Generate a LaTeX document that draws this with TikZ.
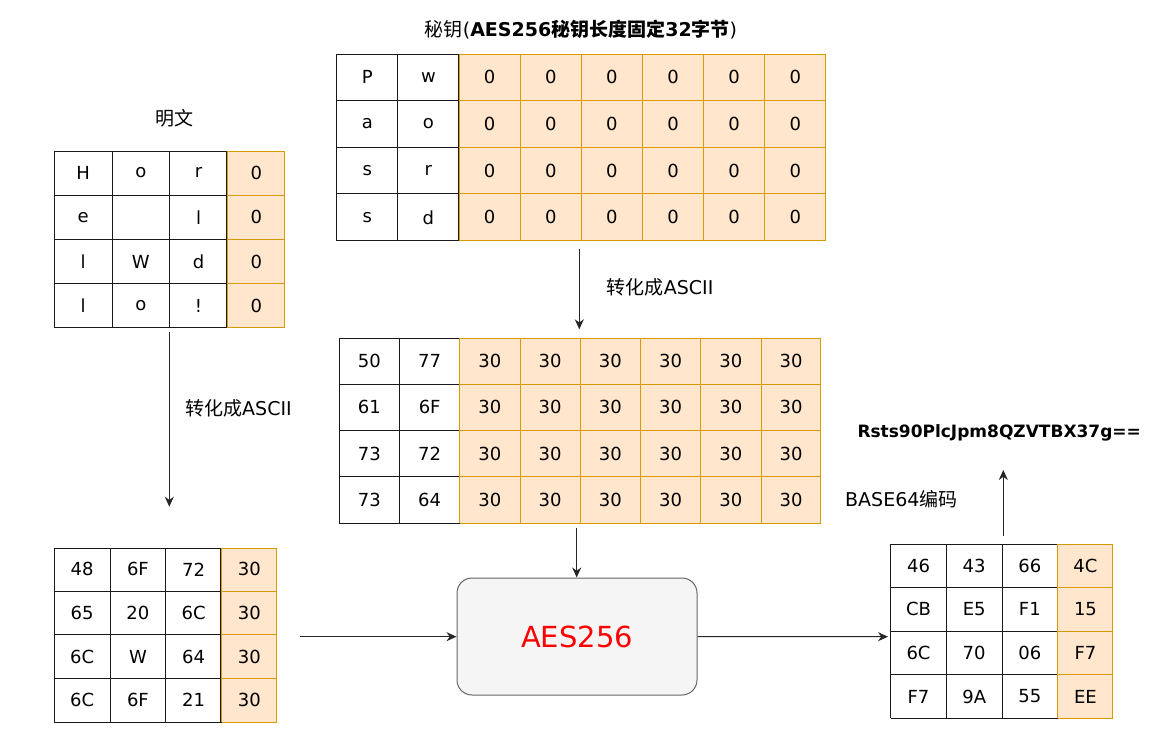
\documentclass[tikz,border=0pt]{standalone}
\usepackage{fontspec}
\setmainfont{DejaVu Sans}
\newfontfamily\cjk{Noto Sans CJK SC}
\usepackage{tikz}
\usetikzlibrary{arrows.meta}
\definecolor{padfill}{HTML}{FFE6CC}
\definecolor{padedge}{HTML}{D79B00}
\definecolor{boxfill}{HTML}{F5F5F5}
\definecolor{boxedge}{HTML}{666666}
\tikzset{
  cellline/.style={line width=1pt, black!90, step=1},
  padline/.style={line width=1pt, padedge, step=1},
  flow/.style={-{Stealth[length=10pt,width=9pt]}, line width=1pt, black!85},
  tag/.style={inner sep=0pt, font=\fontsize{19}{22}\selectfont},
  aesbox/.style={draw=boxedge, fill=boxfill, line width=1pt, rounded corners=15pt,
    minimum width=240pt, minimum height=117pt, text=red, font=\fontsize{29}{34}\selectfont},
}
\begin{document}
\begin{tikzpicture}[x=1pt, y=1pt, every node/.append style={font=\fontsize{18}{22}\selectfont}]
\useasboundingbox (0,0) rectangle (1175,740);

% plaintext
\node[tag] (ptTitle) at (174,622) {\cjk 明文};
\begin{scope}[shift={(54.3,412)}, xscale=57.7, yscale=44.3]
\fill[padfill] (3,0) rectangle (4,4);
\draw[cellline] (0,0) grid (3,4);
\draw[padline] (3,0) grid (4,4);
\node (p11) at (0.5,3.5) {H};
\node (p12) at (1.5,3.5) {o};
\node (p13) at (2.5,3.5) {r};
\node (p14) at (3.5,3.5) {0};
\node (p21) at (0.5,2.5) {e};
\node (p23) at (2.5,2.5) {l};
\node (p24) at (3.5,2.5) {0};
\node (p31) at (0.5,1.5) {l};
\node (p32) at (1.5,1.5) {W};
\node (p33) at (2.5,1.5) {d};
\node (p34) at (3.5,1.5) {0};
\node (p41) at (0.5,0.5) {l};
\node (p42) at (1.5,0.5) {o};
\node (p43) at (2.5,0.5) {!};
\node (p44) at (3.5,0.5) {0};
\end{scope}

% key
\node[tag] (keyTitle) at (581,710) {{\cjk 秘钥}({\bfseries AES256{\cjk 秘钥长度固定}32{\cjk 字节}})};
\begin{scope}[shift={(336.7,499.3)}, xscale=61.15, yscale=46.7]
\fill[padfill] (2,0) rectangle (8,4);
\draw[cellline] (0,0) grid (2,4);
\draw[padline] (2,0) grid (8,4);
\node (k11) at (0.5,3.5) {P};
\node (k12) at (1.5,3.5) {w};
\node (k13) at (2.5,3.5) {0};
\node (k14) at (3.5,3.5) {0};
\node (k15) at (4.5,3.5) {0};
\node (k16) at (5.5,3.5) {0};
\node (k17) at (6.5,3.5) {0};
\node (k18) at (7.5,3.5) {0};
\node (k21) at (0.5,2.5) {a};
\node (k22) at (1.5,2.5) {o};
\node (k23) at (2.5,2.5) {0};
\node (k24) at (3.5,2.5) {0};
\node (k25) at (4.5,2.5) {0};
\node (k26) at (5.5,2.5) {0};
\node (k27) at (6.5,2.5) {0};
\node (k28) at (7.5,2.5) {0};
\node (k31) at (0.5,1.5) {s};
\node (k32) at (1.5,1.5) {r};
\node (k33) at (2.5,1.5) {0};
\node (k34) at (3.5,1.5) {0};
\node (k35) at (4.5,1.5) {0};
\node (k36) at (5.5,1.5) {0};
\node (k37) at (6.5,1.5) {0};
\node (k38) at (7.5,1.5) {0};
\node (k41) at (0.5,0.5) {s};
\node (k42) at (1.5,0.5) {d};
\node (k43) at (2.5,0.5) {0};
\node (k44) at (3.5,0.5) {0};
\node (k45) at (4.5,0.5) {0};
\node (k46) at (5.5,0.5) {0};
\node (k47) at (6.5,0.5) {0};
\node (k48) at (7.5,0.5) {0};
\end{scope}

% key as ascii
\begin{scope}[shift={(339.3,216.7)}, xscale=60.25, yscale=46.4]
\fill[padfill] (2,0) rectangle (8,4);
\draw[cellline] (0,0) grid (2,4);
\draw[padline] (2,0) grid (8,4);
\node (a11) at (0.5,3.5) {50};
\node (a12) at (1.5,3.5) {77};
\node (a13) at (2.5,3.5) {30};
\node (a14) at (3.5,3.5) {30};
\node (a15) at (4.5,3.5) {30};
\node (a16) at (5.5,3.5) {30};
\node (a17) at (6.5,3.5) {30};
\node (a18) at (7.5,3.5) {30};
\node (a21) at (0.5,2.5) {61};
\node (a22) at (1.5,2.5) {6F};
\node (a23) at (2.5,2.5) {30};
\node (a24) at (3.5,2.5) {30};
\node (a25) at (4.5,2.5) {30};
\node (a26) at (5.5,2.5) {30};
\node (a27) at (6.5,2.5) {30};
\node (a28) at (7.5,2.5) {30};
\node (a31) at (0.5,1.5) {73};
\node (a32) at (1.5,1.5) {72};
\node (a33) at (2.5,1.5) {30};
\node (a34) at (3.5,1.5) {30};
\node (a35) at (4.5,1.5) {30};
\node (a36) at (5.5,1.5) {30};
\node (a37) at (6.5,1.5) {30};
\node (a38) at (7.5,1.5) {30};
\node (a41) at (0.5,0.5) {73};
\node (a42) at (1.5,0.5) {64};
\node (a43) at (2.5,0.5) {30};
\node (a44) at (3.5,0.5) {30};
\node (a45) at (4.5,0.5) {30};
\node (a46) at (5.5,0.5) {30};
\node (a47) at (6.5,0.5) {30};
\node (a48) at (7.5,0.5) {30};
\end{scope}

% plaintext as ascii
\begin{scope}[shift={(54.3,18)}, xscale=55.75, yscale=43.6]
\fill[padfill] (3,0) rectangle (4,4);
\draw[cellline] (0,0) grid (3,4);
\draw[padline] (3,0) grid (4,4);
\node (h11) at (0.5,3.5) {48};
\node (h12) at (1.5,3.5) {6F};
\node (h13) at (2.5,3.5) {72};
\node (h14) at (3.5,3.5) {30};
\node (h21) at (0.5,2.5) {65};
\node (h22) at (1.5,2.5) {20};
\node (h23) at (2.5,2.5) {6C};
\node (h24) at (3.5,2.5) {30};
\node (h31) at (0.5,1.5) {6C};
\node (h32) at (1.5,1.5) {W};
\node (h33) at (2.5,1.5) {64};
\node (h34) at (3.5,1.5) {30};
\node (h41) at (0.5,0.5) {6C};
\node (h42) at (1.5,0.5) {6F};
\node (h43) at (2.5,0.5) {21};
\node (h44) at (3.5,0.5) {30};
\end{scope}

% cipher
\begin{scope}[shift={(890.7,21.7)}, xscale=55.65, yscale=43.6]
\fill[padfill] (3,0) rectangle (4,4);
\draw[cellline] (0,0) grid (3,4);
\draw[padline] (3,0) grid (4,4);
\node (c11) at (0.5,3.5) {46};
\node (c12) at (1.5,3.5) {43};
\node (c13) at (2.5,3.5) {66};
\node (c14) at (3.5,3.5) {4C};
\node (c21) at (0.5,2.5) {CB};
\node (c22) at (1.5,2.5) {E5};
\node (c23) at (2.5,2.5) {F1};
\node (c24) at (3.5,2.5) {15};
\node (c31) at (0.5,1.5) {6C};
\node (c32) at (1.5,1.5) {70};
\node (c33) at (2.5,1.5) {06};
\node (c34) at (3.5,1.5) {F7};
\node (c41) at (0.5,0.5) {F7};
\node (c42) at (1.5,0.5) {9A};
\node (c43) at (2.5,0.5) {55};
\node (c44) at (3.5,0.5) {EE};
\end{scope}

\node[aesbox] (aes) at (577,103.5) {AES256};
\node[tag, anchor=west] (ptConv) at (185,331.7) {{\cjk 转化成}ASCII};
\node[tag, anchor=west] (keyConv) at (606.7,452.3) {{\cjk 转化成}ASCII};
\node[tag, anchor=west] (encConv) at (845,240.7) {BASE64{\cjk 编码}};
\node[tag, anchor=west, font=\bfseries\fontsize{17}{20}\selectfont] (b64out) at (857.3,306.7) {Rsts90PlcJpm8QZVTBX37g==};

\coordinate (ptOut) at (169.3,408);
\coordinate (hexIn) at (169.3,233.3);
\coordinate (keyOut) at (579.3,490.7);
\coordinate (asciiIn) at (579.3,410.7);
\coordinate (asciiOut) at (576.7,212);
\coordinate (hexOut) at (300,103.3);
\coordinate (cipherIn) at (888,103.3);
\coordinate (cipherOut) at (1003.3,204);
\coordinate (b64In) at (1003.3,270);

\draw[flow] (ptOut) -- (hexIn);
\draw[flow] (keyOut) -- (asciiIn);
\draw[flow] (asciiOut) -- (asciiOut |- aes.north);
\draw[flow] (hexOut) -- (hexOut -| aes.west);
\draw[flow] (aes.east) -- (cipherIn);
\draw[flow] (cipherOut) -- (b64In);
\end{tikzpicture}
\end{document}
